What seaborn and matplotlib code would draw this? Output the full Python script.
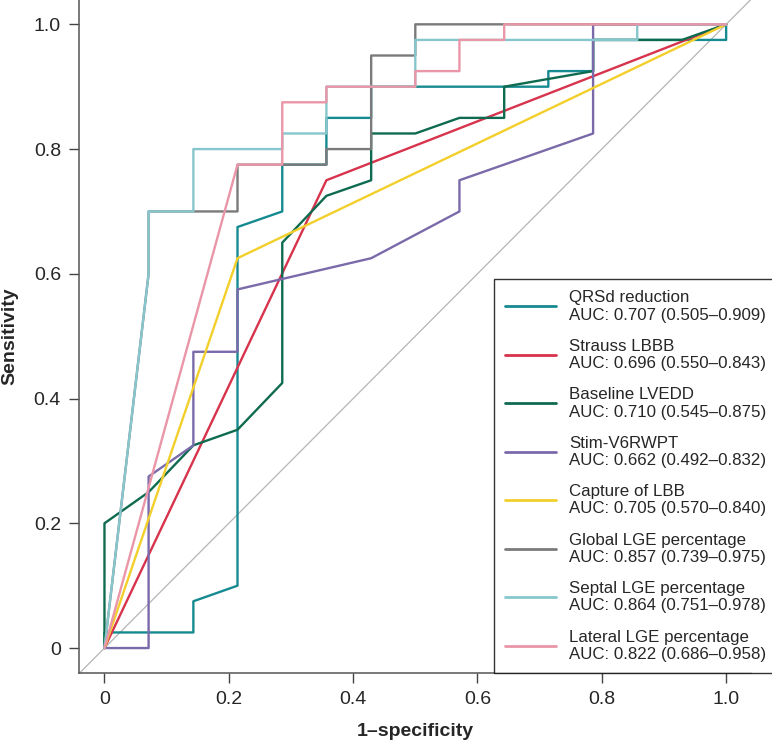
import pandas as pd
import numpy as np
import seaborn as sns
import matplotlib.pyplot as plt
from matplotlib.lines import Line2D

# ROC points
qrsd_x = [0, 0, 0.143, 0.143, 0.214, 0.214, 0.286, 0.286, 0.357, 0.357, 0.429, 0.429, 0.714, 0.714, 0.786, 0.786, 1.0, 1.0]
qrsd_y = [0, 0.025, 0.025, 0.075, 0.1, 0.675, 0.7, 0.775, 0.775, 0.85, 0.85, 0.9, 0.9, 0.925, 0.925, 0.975, 0.975, 1.0]
strauss_x = [0, 0.357, 1.0]
strauss_y = [0, 0.75, 1.0]
lvedd_x = [0, 0, 0.071, 0.143, 0.214, 0.286, 0.286, 0.357, 0.429, 0.429, 0.5, 0.571, 0.643, 0.643, 0.786, 0.786, 0.929, 1.0]
lvedd_y = [0, 0.2, 0.25, 0.325, 0.35, 0.425, 0.65, 0.725, 0.75, 0.825, 0.825, 0.85, 0.85, 0.9, 0.925, 0.975, 0.975, 1.0]
stim_x = [0, 0.071, 0.071, 0.143, 0.143, 0.214, 0.214, 0.429, 0.571, 0.571, 0.786, 0.786, 1.0]
stim_y = [0, 0, 0.275, 0.325, 0.475, 0.475, 0.575, 0.625, 0.7, 0.75, 0.825, 1.0, 1.0]
capture_x = [0, 0.214, 1.0]
capture_y = [0, 0.625, 1.0]
global_x = [0, 0.071, 0.071, 0.143, 0.214, 0.214, 0.357, 0.357, 0.429, 0.429, 0.5, 0.5, 1.0]
global_y = [0, 0.6, 0.7, 0.7, 0.7, 0.775, 0.775, 0.8, 0.8, 0.95, 0.95, 1.0, 1.0]
septal_x = [0, 0.071, 0.071, 0.143, 0.143, 0.286, 0.286, 0.357, 0.357, 0.5, 0.5, 0.857, 0.857, 1.0]
septal_y = [0, 0.6, 0.7, 0.7, 0.8, 0.8, 0.825, 0.825, 0.9, 0.9, 0.975, 0.975, 1.0, 1.0]
lateral_x = [0, 0.214, 0.286, 0.286, 0.357, 0.357, 0.5, 0.5, 0.571, 0.571, 0.643, 0.643, 1.0]
lateral_y = [0, 0.775, 0.775, 0.875, 0.875, 0.9, 0.9, 0.925, 0.925, 0.975, 0.975, 1.0, 1.0]

names = ["QRSd reduction", "Strauss LBBB", "Baseline LVEDD", "Stim-V6RWPT",
         "Capture of LBB", "Global LGE percentage", "Septal LGE percentage", "Lateral LGE percentage"]
aucs = ["AUC: 0.707 (0.505–0.909)", "AUC: 0.696 (0.550–0.843)", "AUC: 0.710 (0.545–0.875)",
        "AUC: 0.662 (0.492–0.832)", "AUC: 0.705 (0.570–0.840)", "AUC: 0.857 (0.739–0.975)",
        "AUC: 0.864 (0.751–0.978)", "AUC: 0.822 (0.686–0.958)"]
colors = ["#168a91", "#d7334c", "#0f6b50", "#7a6aaa", "#f2cf2b", "#7a7a7a", "#86c6cc", "#ea96a8"]

curves = [(qrsd_x, qrsd_y), (strauss_x, strauss_y), (lvedd_x, lvedd_y), (stim_x, stim_y),
          (capture_x, capture_y), (global_x, global_y), (septal_x, septal_y), (lateral_x, lateral_y)]

rows = []
for name, (xs, ys) in zip(names, curves):
    for a, b in zip(xs, ys):
        rows.append({"fpr": a, "tpr": b, "marker": name})
df = pd.DataFrame(rows)

sns.set_style("ticks")
plt.rcParams['font.family'] = ['Liberation Sans', 'DejaVu Sans']

fig = plt.figure(figsize=(7.72, 7.42), dpi=100)
ax = fig.add_axes([0.1023, 0.093, 0.8705, 0.907])

ax.axline((0, 0), (1, 1), color="#b5b5b5", lw=0.9, zorder=1)

sns.lineplot(data=df, x="fpr", y="tpr", hue="marker", hue_order=names, palette=colors,
             sort=False, estimator=None, lw=1.7, ax=ax, legend=False)

ax.set_xlim(-0.041, 1.04)
ax.set_ylim(-0.04, 1.039)
ticks = [0, 0.2, 0.4, 0.6, 0.8, 1.0]
ax.set_xticks(ticks)
ax.set_yticks(ticks)
ax.set_xticklabels(["0", "0.2", "0.4", "0.6", "0.8", "1.0"], fontsize=14)
ax.set_yticklabels(["0", "0.2", "0.4", "0.6", "0.8", "1.0"], fontsize=14)
ax.tick_params(direction="out", length=7, width=1, color="#444444", pad=6)
for s in ["left", "bottom"]:
    ax.spines[s].set_color("#555555")
    ax.spines[s].set_linewidth(1.1)
ax.spines["top"].set_visible(False)
ax.spines["right"].set_visible(False)

ax.set_xlabel("1–specificity", fontsize=14, fontweight="bold")
ax.set_ylabel("Sensitivity", fontsize=14, fontweight="bold")
ax.xaxis.set_label_coords(0.5, -0.075)
ax.yaxis.set_label_coords(-0.09, 0.5)

handles = [Line2D([0], [0], color=c, lw=2) for c in colors]
labels = [f"{n}\n{a}" for n, a in zip(names, aucs)]
leg = fig.legend(handles, labels, loc="lower left", bbox_to_anchor=(494 / 772, 1 - 673 / 742),
                 fontsize=12.2, frameon=True, fancybox=False, edgecolor="black",
                 handlelength=3.0, handletextpad=0.8, labelspacing=0.95, borderpad=0.65,
                 borderaxespad=0)
leg.get_frame().set_linewidth(1.0)
for t in leg.get_texts():
    t.set_linespacing(1.2)

fig.savefig("out.png", dpi=100)
